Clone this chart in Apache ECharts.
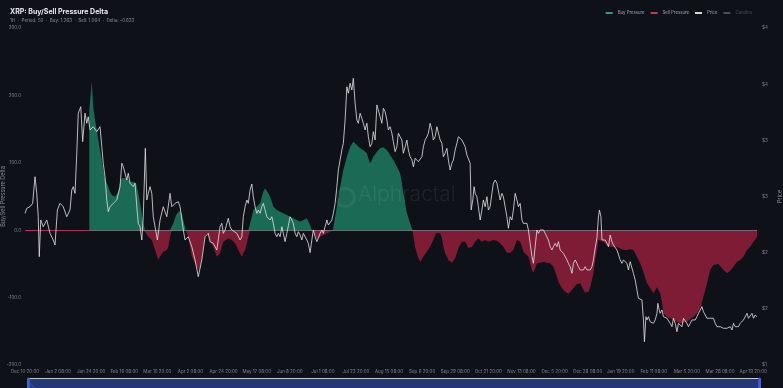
<!DOCTYPE html>
<html>
<head>
<meta charset="utf-8">
<script src="https://cdn.jsdelivr.net/npm/echarts@6/dist/echarts.min.js"></script>
<style>html,body{margin:0;padding:0;background:#0e1118;}#c{width:783px;height:388px;}</style>
</head>
<body>
<div id="c"></div>
<script>
// x values are days since Dec 10 2024 20:00 (UTC)
const startTime = Date.UTC(2024, 11, 10, 20);
const monthNames = ['Jan','Feb','Mar','Apr','May','Jun','Jul','Aug','Sep','Oct','Nov','Dec'];
const deltaTicks = [-200, -100, 0, 100, 200, 300];
const priceTicks = [1, 1.5, 2, 2.5, 3, 3.5, 4];
const seriesNames = ['Buy Pressure', 'Sell Pressure', 'Price', 'Candles'];

// XRP price [day, USD]
const price = [
[0,2.350],[1.2,2.395],[3.4,2.409],[5.2,2.439],[6.8,2.676],[8.0,2.528],[9.0,2.320],[9.7,1.964],[10.7,2.291],[12.4,2.231],
[14.8,2.291],[17.0,2.172],[19.2,2.113],[20.4,2.068],[22.0,2.380],[23.8,2.439],[26.0,2.409],[28.4,2.320],[30.6,2.380],[31.8,2.558],
[32.8,2.587],[34.0,2.528],[35.2,2.885],[36.2,3.241],[37.9,3.299],[39.2,2.988],[40.8,3.241],[42.0,3.152],[43.0,3.210],[44.2,3.092],
[46.4,3.121],[48.8,3.077],[51.0,3.121],[52.2,2.943],[53.2,2.796],[54.4,2.676],[55.6,2.469],[56.6,2.365],[57.8,2.409],[60.0,2.439],
[62.4,2.469],[64.6,2.587],[65.8,2.796],[66.8,2.765],[69.2,2.647],[70.2,2.707],[71.4,2.618],[73.6,2.587],[74.8,2.618],[76.0,2.409],
[77.0,2.261],[78.2,2.231],[79.4,2.113],[80.4,2.320],[81.8,2.929],[82.8,2.469],[83.8,2.528],[85.0,2.587],[86.2,2.528],[87.2,2.320],
[88.4,2.231],[90.0,2.113],[91.8,2.291],[94.0,2.409],[96.4,2.320],[98.6,2.528],[99.8,2.409],[102.0,2.439],[104.2,2.454],[105.4,2.409],
[107.6,2.202],[108.8,2.113],[111.0,2.142],[113.4,2.053],[115.6,1.935],[117.8,1.786],[120.2,1.935],[122.4,2.142],[124.6,2.172],[125.8,2.098],
[128.0,2.083],[130.4,2.024],[131.4,2.009],[132.6,2.231],[133.8,2.261],[134.8,2.172],[136.0,2.202],[138.2,2.306],[139.4,2.231],[140.6,2.202],
[141.6,2.217],[144.0,2.172],[146.2,2.113],[147.4,2.142],[148.4,2.320],[149.6,2.409],[150.8,2.469],[151.8,2.439],[153.0,2.558],[154.2,2.611],
[155.2,2.498],[156.4,2.409],[157.6,2.350],[158.6,2.380],[159.8,2.350],[161.0,2.409],[162.0,2.439],[163.2,2.380],[164.4,2.320],[165.4,2.335],
[166.6,2.291],[167.8,2.320],[168.8,2.261],[170.0,2.172],[171.2,2.142],[172.2,2.172],[173.4,2.142],[174.6,2.231],[175.6,2.172],[176.8,2.098],
[178.0,2.172],[180.2,2.320],[181.4,2.291],[182.4,2.261],[183.6,2.172],[184.8,2.142],[185.8,2.187],[187.0,2.157],[188.2,2.113],[189.2,2.172],
[190.4,2.157],[191.6,2.113],[192.6,2.083],[193.8,2.000],[195.0,2.113],[196.0,2.202],[197.2,2.142],[198.4,2.098],[199.4,2.128],[200.6,2.172],
[201.8,2.202],[202.8,2.172],[204.0,2.231],[205.2,2.291],[206.2,2.246],[207.4,2.261],[208.6,2.291],[209.6,2.350],[210.8,2.439],[212.0,2.587],
[213.0,2.736],[214.2,2.825],[215.4,2.914],[216.4,2.974],[217.6,3.181],[218.8,3.477],[219.8,3.419],[221.0,3.508],[222.2,3.448],[223.2,3.552],
[224.4,3.330],[225.6,3.181],[226.6,3.152],[227.8,3.241],[229.0,3.196],[230.0,3.152],[231.2,3.092],[232.4,3.152],[233.4,3.032],[234.6,2.943],
[235.8,2.974],[236.8,3.077],[238.0,3.003],[239.2,3.315],[240.2,3.299],[241.4,3.210],[242.6,3.152],[243.6,3.285],[244.8,3.255],[246.0,3.181],
[247.0,3.092],[248.2,3.121],[249.4,3.063],[250.4,2.988],[251.6,2.899],[252.8,2.943],[253.8,3.063],[255.0,3.032],[256.2,3.003],[257.2,2.885],
[258.4,2.943],[259.6,3.003],[260.6,2.914],[261.8,2.854],[263.0,2.825],[264.0,2.765],[265.2,2.840],[266.4,2.825],[267.4,2.810],[268.6,2.825],
[269.8,2.854],[270.8,2.943],[272.0,3.003],[273.2,3.032],[274.2,3.063],[275.4,3.152],[276.6,3.092],[277.6,3.003],[278.8,3.032],[280.0,3.121],
[281.0,3.121],[282.2,3.003],[283.4,2.974],[284.4,2.854],[285.6,2.885],[286.8,2.929],[287.8,2.825],[289.0,2.736],[290.2,2.796],[291.2,2.825],
[292.4,2.914],[293.6,2.974],[294.6,3.032],[295.8,3.039],[297.0,3.003],[298.0,3.003],[299.2,2.943],[300.4,2.869],[301.4,2.854],[302.6,2.796],
[303.3,2.380],[304.4,2.469],[305.3,2.587],[306.0,2.528],[307.2,2.498],[308.2,2.409],[309.4,2.291],[310.6,2.380],[311.6,2.469],[312.8,2.409],
[314.0,2.498],[315.0,2.380],[316.2,2.409],[317.4,2.528],[318.4,2.618],[319.6,2.647],[320.8,2.618],[321.8,2.632],[323.0,2.469],[324.2,2.528],
[325.2,2.498],[326.4,2.409],[327.6,2.320],[328.6,2.217],[329.8,2.320],[331.0,2.291],[332.0,2.380],[333.2,2.528],[334.4,2.469],[335.4,2.409],
[336.6,2.439],[337.8,2.291],[338.8,2.261],[340.0,2.246],[341.2,2.261],[342.2,2.202],[343.4,2.083],[344.6,1.964],[345.6,1.905],[346.8,2.053],
[348.0,2.202],[349.0,2.172],[350.2,2.202],[351.4,2.187],[352.4,2.202],[353.6,2.172],[354.8,2.187],[355.8,2.113],[357.0,2.053],[358.2,2.024],
[359.2,2.053],[360.4,2.083],[361.6,2.053],[362.6,2.098],[363.8,2.024],[365.0,2.009],[366.0,1.994],[367.2,2.009],[368.4,1.935],[369.4,1.905],
[370.6,1.875],[371.8,1.816],[372.8,1.905],[374.0,1.935],[375.2,1.905],[376.2,1.875],[377.4,1.846],[378.6,1.861],[379.6,1.846],[380.8,1.875],
[382.0,1.846],[383.0,1.861],[384.2,1.846],[385.4,1.875],[386.4,1.935],[387.6,2.042],[388.8,2.131],[389.8,2.317],[390.5,2.380],[391.5,2.320],
[392.2,2.113],[393.2,2.098],[394.4,2.113],[395.6,2.083],[396.6,2.053],[397.8,2.157],[399.0,2.098],[400.0,2.068],[401.2,2.068],[402.4,2.024],
[403.4,2.009],[404.6,1.935],[405.8,1.905],[406.8,1.935],[408.0,1.920],[409.2,1.905],[410.2,1.846],[411.4,1.920],[412.6,1.935],[413.6,1.816],
[414.8,1.757],[416.0,1.668],[417.0,1.594],[418.2,1.608],[419.4,1.579],[420.4,1.401],[421.1,1.207],[422.1,1.430],[422.8,1.401],[423.8,1.430],
[425.0,1.385],[426.2,1.401],[427.2,1.371],[428.4,1.401],[429.6,1.460],[430.2,1.549],[431.1,1.490],[431.8,1.460],[433.0,1.490],[434.0,1.430],
[435.2,1.445],[436.4,1.416],[437.4,1.430],[438.6,1.371],[439.8,1.341],[440.8,1.416],[442.0,1.371],[443.2,1.296],[444.2,1.371],[445.4,1.356],
[446.6,1.341],[447.6,1.416],[448.8,1.401],[450.0,1.371],[451.0,1.341],[452.2,1.371],[453.4,1.401],[454.4,1.416],[455.6,1.401],[456.8,1.430],
[457.8,1.460],[459.0,1.490],[460.2,1.519],[461.2,1.474],[462.4,1.445],[463.6,1.416],[464.6,1.401],[465.8,1.416],[467.0,1.401],[468.0,1.416],
[469.2,1.371],[470.4,1.341],[471.4,1.356],[472.6,1.341],[473.8,1.347],[474.8,1.327],[476.0,1.312],[477.2,1.327],[478.2,1.312],[479.4,1.341],
[480.6,1.312],[481.6,1.371],[482.8,1.341],[484.0,1.356],[485.0,1.341],[486.2,1.371],[487.4,1.371],[488.4,1.401],[489.6,1.401],[490.8,1.460],
[491.8,1.416],[493.0,1.430],[494.2,1.460],[495.2,1.416],[496.4,1.445],[497.6,1.430]
];

// Buy/Sell pressure delta [day, delta]
const delta = [
[43.7,178.3],[45.4,220.3],[46.4,183.2],[47.6,163.5],[48.8,148.7],[49.8,133.8],[51.0,119.0],[52.2,104.1],[53.2,89.3],[54.4,77.0],
[55.6,69.6],[56.6,64.5],[57.8,57.1],[59.0,52.2],[60.0,49.7],[61.2,49.7],[62.4,52.2],[63.4,57.1],[64.6,69.6],[65.8,77.0],
[66.8,79.4],[69.2,77.0],[71.4,72.0],[73.6,72.0],[75.5,69.6],[77.0,54.7],[78.2,39.9],[79.4,25.1],[80.4,10.2],[81.6,-2.2],
[83.8,-9.6],[86.2,-14.5],[88.4,-29.4],[90.6,-44.2],[91.8,-39.3],[94.0,-31.9],[96.4,-29.4],[97.4,-24.5],[98.6,-9.6],[99.8,0.3],
[100.8,10.2],[102.7,22.6],[104.9,28.5],[106.6,25.1],[107.6,15.1],[109.3,0.3],[110.0,-2.2],[111.0,-9.6],[112.2,-24.5],[113.4,-39.3],
[114.4,-44.2],[115.6,-49.1],[116.8,-54.2],[117.8,-59.1],[119.0,-54.2],[120.2,-44.2],[121.2,-24.5],[122.4,-9.6],[123.6,-4.6],[124.6,-9.6],
[125.8,-17.1],[128.0,-24.5],[130.4,-39.3],[131.4,-41.7],[132.6,-34.3],[133.8,-24.5],[134.8,-17.1],[136.0,-14.5],[138.2,-12.0],[140.6,-14.5],
[142.8,-19.4],[145.0,-29.4],[147.4,-39.3],[148.4,-38.3],[149.6,-29.4],[150.8,-19.4],[151.8,-9.6],[153.0,-0.7],[154.2,20.0],[155.2,30.0],
[157.6,34.9],[159.8,39.9],[161.0,49.7],[162.0,57.1],[163.2,62.2],[164.4,59.6],[165.4,54.7],[166.6,49.7],[167.8,42.3],[168.8,34.9],
[170.0,32.5],[171.2,30.0],[173.4,27.4],[175.6,25.1],[178.0,22.6],[180.2,20.0],[182.4,17.7],[184.8,15.1],[187.0,12.6],[189.2,15.1],
[191.6,17.7],[192.6,15.1],[193.8,7.7],[195.0,0.3],[196.0,-2.2],[197.2,-7.1],[198.4,-14.5],[199.4,-14.5],[200.6,-9.6],[202.8,-7.1],
[205.2,-4.6],[207.4,-2.2],[209.2,-0.7],[210.1,10.2],[212.0,34.9],[214.2,64.5],[216.4,89.3],[218.8,109.1],[221.0,123.9],[223.2,131.3],
[225.6,126.4],[227.8,121.5],[230.0,119.0],[232.4,114.1],[233.4,106.7],[234.6,99.3],[235.8,104.2],[236.8,109.1],[239.2,116.5],[241.4,121.5],
[243.6,123.0],[246.0,119.0],[248.2,111.6],[250.4,104.2],[252.8,94.2],[255.0,84.4],[256.2,69.6],[257.2,54.7],[258.4,39.9],[259.6,25.1],
[261.8,10.2],[263.4,-0.7],[264.0,-9.6],[265.2,-24.5],[266.4,-34.3],[267.4,-41.7],[268.6,-46.7],[269.8,-44.2],[270.8,-39.3],[273.2,-31.9],
[275.4,-24.5],[277.6,-14.5],[278.8,-7.1],[280.0,-3.7],[281.0,-2.2],[282.2,-4.6],[283.4,-12.0],[284.4,-24.5],[285.6,-34.3],[286.8,-39.3],
[287.8,-44.2],[289.0,-46.7],[290.2,-48.2],[291.2,-46.7],[292.4,-41.7],[293.6,-34.3],[294.6,-26.9],[295.8,-22.0],[297.0,-17.1],[298.0,-14.5],
[299.2,-17.1],[300.4,-22.0],[301.4,-26.9],[302.6,-29.4],[303.8,-24.5],[304.8,-22.0],[306.0,-17.1],[307.2,-14.5],[308.2,-12.0],[309.4,-14.5],
[310.6,-17.1],[311.6,-14.5],[312.8,-14.5],[314.0,-13.5],[315.0,-17.1],[316.2,-18.5],[318.4,-14.5],[320.8,-15.6],[323.0,-19.4],[324.2,-22.0],
[325.2,-24.5],[326.4,-29.4],[327.6,-33.4],[328.6,-34.3],[329.8,-33.4],[331.0,-31.9],[332.0,-29.4],[333.2,-22.0],[334.4,-14.5],[335.4,-13.5],
[336.6,-17.1],[337.8,-24.5],[338.8,-31.9],[340.0,-34.3],[342.2,-39.3],[343.4,-49.1],[344.6,-59.1],[345.6,-63.1],[346.8,-56.5],[348.0,-49.1],
[349.0,-46.7],[352.4,-47.2],[354.8,-48.2],[357.0,-49.1],[359.2,-54.2],[360.4,-61.6],[361.6,-69.0],[362.6,-76.4],[363.8,-81.3],[365.0,-86.2],
[366.0,-88.7],[367.2,-91.2],[368.4,-93.6],[369.4,-94.7],[370.6,-92.7],[371.8,-88.7],[372.8,-86.2],[374.0,-82.8],[375.2,-79.8],[376.2,-77.9],
[377.4,-78.8],[378.6,-83.8],[379.6,-88.7],[380.8,-92.7],[382.0,-93.6],[383.0,-91.2],[384.2,-85.0],[385.4,-73.9],[386.4,-63.9],[387.6,-44.2],
[388.8,-29.4],[389.8,-14.5],[391.0,-11.6],[393.2,-17.1],[395.6,-22.0],[397.8,-24.5],[400.0,-24.5],[402.4,-25.4],[404.6,-26.9],[406.8,-29.4],
[409.2,-29.4],[411.4,-28.3],[413.6,-29.4],[416.0,-39.3],[418.2,-49.1],[420.4,-62.0],[422.8,-78.8],[425.0,-85.8],[427.2,-93.6],[429.6,-84.7],
[431.8,-93.6],[433.0,-108.0],[434.0,-123.3],[436.4,-128.3],[440.8,-133.2],[445.4,-138.1],[450.0,-135.8],[454.4,-128.3],[456.8,-123.3],[459.0,-115.9],
[461.2,-98.7],[463.6,-78.8],[465.8,-59.1],[468.0,-51.6],[471.4,-50.2],[474.8,-59.1],[477.2,-63.9],[479.4,-60.1],[481.6,-54.2],[484.0,-46.7],
[486.2,-44.2],[488.4,-39.3],[490.8,-29.4],[493.0,-24.5],[495.2,-17.1],[497.6,-9.6]
];

const buyData = delta.map(p => [p[0], Math.max(p[1], 0)]);
const sellData = delta.map(p => [p[0], Math.min(p[1], 0)]);

const FONT = 'Inter, "Noto Sans", sans-serif';
const GREEN = '#1b6a55';
const RED = '#7e1c35';
const LABEL = '#80858f';

function fmtDate(v) {
  const k = v / 22.5;
  if (Math.abs(k - Math.round(k)) > 1e-6) return '';
  const d = new Date(startTime + v * 86400000);
  return monthNames[d.getUTCMonth()] + ' ' + d.getUTCDate() + ' ' + String(d.getUTCHours()).padStart(2, '0') + ':00';
}

const chart = echarts.init(document.getElementById('c'), null, { renderer: 'canvas' });
chart.setOption({
  backgroundColor: '#0e1118',
  animation: false,
  textStyle: { fontFamily: FONT },
  title: {
    text: 'XRP: Buy/Sell Pressure Delta',
    subtext: '1H  ·  Period: 50  ·  Buy: 1.263  ·  Sell: 1.064  ·  Delta: -0.633',
    left: 5, top: 3, itemGap: 3,
    textStyle: { color: '#e6e8ec', fontSize: 7, fontWeight: 'bold', fontFamily: FONT },
    subtextStyle: { color: '#8a8f99', fontSize: 4.5, fontFamily: FONT }
  },
  legend: {
    right: 26, top: 6,
    itemWidth: 7, itemHeight: 2, itemGap: 6,
    textStyle: { color: '#a0a6b0', fontSize: 4.3, fontFamily: FONT },
    inactiveColor: '#4a4e57',
    selected: { 'Candles': false },
    data: [
      { name: seriesNames[0], icon: 'rect', itemStyle: { color: '#2b9c7f' } },
      { name: seriesNames[1], icon: 'rect', itemStyle: { color: '#c23a5a' } },
      { name: seriesNames[2], icon: 'rect', itemStyle: { color: '#d8d8d8' } },
      { name: seriesNames[3], icon: 'roundRect', itemStyle: { color: '#d8d8d8' } }
    ]
  },
  grid: { left: 25, right: 26, top: 28, bottom: 23, containLabel: false, outerBoundsMode: 'none' },
  xAxis: {
    type: 'value', min: 0, max: price[price.length - 1][0], interval: 22.5,
    axisLine: { show: false }, axisTick: { show: false }, splitLine: { show: false },
    axisLabel: { color: LABEL, fontSize: 4.5, margin: 4, formatter: fmtDate, showMaxLabel: true }
  },
  yAxis: [
    {
      type: 'value', min: deltaTicks[0], max: deltaTicks[deltaTicks.length - 1], interval: 100,
      name: 'Buy/Sell Pressure Delta', nameLocation: 'middle', nameGap: 19, nameMoveOverlap: false,
      nameTextStyle: { color: '#8a8f99', fontSize: 5.5 },
      axisLine: { show: false }, axisTick: { show: false }, splitLine: { show: false },
      axisLabel: { color: LABEL, fontSize: 4.5, margin: 4, formatter: v => v.toFixed(1) }
    },
    {
      type: 'value', min: priceTicks[0], max: priceTicks[priceTicks.length - 1], interval: 0.5,
      name: 'Price', nameLocation: 'middle', nameGap: 20, position: 'right', nameMoveOverlap: false,
      nameTextStyle: { color: '#8a8f99', fontSize: 5.5 },
      axisLine: { show: false }, axisTick: { show: false }, splitLine: { show: false },
      axisLabel: { color: LABEL, fontSize: 4.5, margin: 5, formatter: v => '$' + v.toFixed(0) }
    }
  ],
  dataZoom: [{
    type: 'slider', xAxisIndex: 0, filterMode: 'none', start: 0, end: 100,
    left: 25, right: 25, top: 378, height: 28,
    showDetail: false, brushSelect: false,
    backgroundColor: 'rgba(30,45,100,0.5)',
    fillerColor: 'rgba(55,85,190,0.45)',
    borderColor: '#c4c8d0',
    dataBackground: { lineStyle: { color: '#5a6aa0', width: 0.5 }, areaStyle: { color: 'rgba(80,100,170,0.4)' } },
    selectedDataBackground: { lineStyle: { color: '#6a7ac0', width: 0.5 }, areaStyle: { color: 'rgba(90,110,190,0.4)' } },
    handleIcon: 'path://M0,0L2,0L2,40L0,40Z', handleSize: '100%',
    handleStyle: { color: '#3d63e0', borderColor: '#3d63e0' },
    moveHandleSize: 2, moveHandleStyle: { color: '#c4c8d0', opacity: 1 }
  }],
  graphic: [
    { type: 'circle', left: 334, top: 186, z: 10, silent: true,
      shape: { r: 9 }, style: { fill: 'none', stroke: 'rgba(255,255,255,0.06)', lineWidth: 3 } },
    { type: 'text', left: 358, top: 184, z: 10, silent: true,
      style: { text: 'Alphractal', fill: 'rgba(255,255,255,0.07)', font: '300 21px ' + FONT } }
  ],
  series: [
    {
      name: seriesNames[0], type: 'line', xAxisIndex: 0, yAxisIndex: 0, z: 2,
      data: buyData, showSymbol: false, smooth: false,
      itemStyle: { color: '#2b9c7f' },
      lineStyle: { width: 0 },
      areaStyle: { color: GREEN, opacity: 1, origin: 0 }
    },
    {
      name: seriesNames[1], type: 'line', xAxisIndex: 0, yAxisIndex: 0, z: 2,
      data: sellData, showSymbol: false, smooth: false,
      itemStyle: { color: '#c23a5a' },
      lineStyle: { width: 0 },
      areaStyle: { color: RED, opacity: 1, origin: 0 },
      markLine: {
        silent: true, symbol: 'none', label: { show: false }, animation: false,
        data: [
          { yAxis: 0, lineStyle: { color: 'rgba(130,134,145,0.75)', width: 1, type: 'solid' } },
          [ { coord: [price[0][0], 0], lineStyle: { color: '#b3304d', width: 1, type: 'solid' } },
            { coord: [delta[0][0], 0] } ]
        ]
      }
    },
    {
      name: seriesNames[2], type: 'line', xAxisIndex: 0, yAxisIndex: 1, z: 6,
      data: price, showSymbol: false, smooth: false,
      itemStyle: { color: '#d8d8d8' },
      lineStyle: { color: 'rgba(225,225,228,0.9)', width: 0.9 }
    },
    {
      name: seriesNames[3], type: 'line', xAxisIndex: 0, yAxisIndex: 1,
      data: [], showSymbol: false, itemStyle: { color: '#d8d8d8' }
    }
  ]
});
</script>
</body>
</html>
